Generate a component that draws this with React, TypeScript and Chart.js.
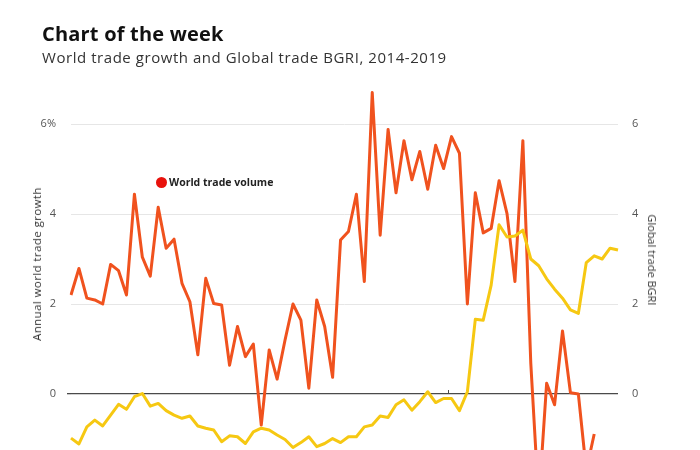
import React, { useEffect, useRef } from "react";
import { Chart, registerables } from "chart.js";

Chart.register(...registerables);

const years = [2014, 2015, 2016, 2017, 2018, 2019];
const months = ["Jan", "Feb", "Mar", "Apr", "May", "Jun", "Jul", "Aug", "Sep", "Oct", "Nov", "Dec"];
const monthCount = 70; // Jan 2014 .. Oct 2019

const labels: string[] = [];
years.forEach((y) => months.forEach((m) => labels.push(`${m} ${y}`)));
labels.length = monthCount;

// Annual world trade growth (%), left axis
const worldTradeVolume = [
  2.2, 2.79, 2.13, 2.09, 2.0, 2.88, 2.74, 2.2, 4.44, 3.04,
  2.62, 4.15, 3.24, 3.44, 2.46, 2.05, 0.87, 2.57, 2.01, 1.98,
  0.64, 1.5, 0.83, 1.11, -0.69, 0.98, 0.33, 1.2, 2.0, 1.64,
  0.13, 2.09, 1.5, 0.37, 3.42, 3.61, 4.44, 2.5, 6.7, 3.53,
  5.88, 4.47, 5.63, 4.76, 5.39, 4.55, 5.53, 5.01, 5.72, 5.35,
  2.0, 4.47, 3.58, 3.68, 4.74, 4.01, 2.5, 5.63, 0.68, -2.4,
  0.24, -0.24, 1.4, 0.03, 0.0, -1.7, -0.89,
];

// Global trade BGRI, right axis
const globalTradeBGRI = [
  -0.98, -1.11, -0.73, -0.58, -0.71, -0.47, -0.23, -0.34, -0.06, 0.01,
  -0.27, -0.21, -0.37, -0.47, -0.54, -0.49, -0.71, -0.76, -0.8, -1.06,
  -0.93, -0.95, -1.1, -0.84, -0.76, -0.8, -0.91, -1.01, -1.19, -1.08,
  -0.95, -1.17, -1.1, -0.99, -1.08, -0.95, -0.95, -0.73, -0.69, -0.49,
  -0.52, -0.24, -0.13, -0.36, -0.17, 0.05, -0.19, -0.1, -0.1, -0.37,
  0.05, 1.66, 1.64, 2.42, 3.76, 3.49, 3.51, 3.64, 3.0, 2.85,
  2.56, 2.33, 2.13, 1.87, 1.79, 2.92, 3.07, 3.0, 3.24, 3.2,
];

const leftTicks = [0, 2, 4, 6];
const rightTicks = [0, 2, 4, 6];
const yearMarkAfter = ["Dec 2017"];

const FONT = "'Open Sans', 'Noto Sans', sans-serif";
const ORANGE = "#F0521E";
const YELLOW = "#F6C812";

const yearMarkPlugin = {
  id: "yearMark",
  afterDatasetsDraw(chart: any) {
    const x = chart.scales.x;
    const y = chart.scales.y;
    const ctx = chart.ctx;
    ctx.save();
    ctx.strokeStyle = "#4a4a4a";
    ctx.lineWidth = 1;
    yearMarkAfter.forEach((lab) => {
      const i = labels.indexOf(lab);
      if (i < 0) return;
      const px = Math.round((x.getPixelForValue(i) + x.getPixelForValue(i + 1)) / 2) + 0.5;
      const py = y.getPixelForValue(0);
      ctx.beginPath();
      ctx.moveTo(px, py);
      ctx.lineTo(px, py - 4);
      ctx.stroke();
    });
    ctx.restore();
  },
};

export default function App() {
  const canvasRef = useRef<HTMLCanvasElement | null>(null);

  useEffect(() => {
    if (!canvasRef.current) return;
    const chart = new Chart(canvasRef.current, {
      type: "line",
      data: {
        labels,
        datasets: [
          {
            label: "Global trade BGRI",
            data: globalTradeBGRI,
            yAxisID: "y1",
            borderColor: YELLOW,
            borderWidth: 3,
            pointRadius: 0,
            tension: 0,
            borderJoinStyle: "round",
            fill: false,
          },
          {
            label: "World trade volume",
            data: worldTradeVolume,
            yAxisID: "y",
            borderColor: ORANGE,
            borderWidth: 3,
            pointRadius: 0,
            tension: 0,
            borderJoinStyle: "round",
            fill: false,
          },
        ],
      },
      plugins: [yearMarkPlugin],
      options: {
        responsive: false,
        animation: false,
        layout: { padding: { top: 79, bottom: 26, left: 0, right: 0 } },
        plugins: {
          legend: { display: false },
          tooltip: { enabled: false },
          title: { display: false },
        },
        scales: {
          x: { type: "category", display: false, offset: false },
          y: {
            position: "left",
            min: -4,
            max: 7,
            afterBuildTicks: (s: any) => {
              s.ticks = leftTicks.map((v) => ({ value: v }));
            },
            afterFit: (s: any) => {
              s.width = 71;
            },
            border: { display: false },
            grid: {
              color: (ctx: any) => (ctx.tick && ctx.tick.value === 0 ? "#4a4a4a" : "#e6e6e6"),
              lineWidth: (ctx: any) => (ctx.tick && ctx.tick.value === 0 ? 1.3 : 1),
              drawTicks: true,
              tickLength: 4,
              tickColor: (ctx: any) => (ctx.tick && ctx.tick.value === 0 ? "#4a4a4a" : "rgba(0,0,0,0)"),
            },
            ticks: {
              padding: 11,
              color: "#555",
              font: { family: FONT, size: 11 },
              callback: (v: any) => (v === 6 ? "6%" : String(v)),
            },
          },
          y1: {
            position: "right",
            min: -4,
            max: 7,
            afterBuildTicks: (s: any) => {
              s.ticks = rightTicks.map((v) => ({ value: v }));
            },
            afterFit: (s: any) => {
              s.width = 82;
            },
            border: { display: false },
            grid: { display: false, drawTicks: false },
            ticks: {
              padding: 14,
              color: "#555",
              font: { family: FONT, size: 11 },
              callback: (v: any) => String(v),
            },
          },
        },
      },
    });
    return () => chart.destroy();
  }, []);

  return (
    <div
      style={{
        position: "fixed",
        left: 0,
        top: 0,
        width: 700,
        height: 450,
        overflow: "hidden",
        background: "#fff",
        fontFamily: FONT,
        fontWeight: 400,
      }}
    >
      <canvas
        ref={canvasRef}
        width={700}
        height={600}
        style={{ position: "absolute", left: 0, top: 0, width: 700, height: 600 }}
      />
      <div
        style={{
          position: "absolute",
          left: 42,
          top: 22,
          fontSize: 20,
          fontWeight: 700,
          letterSpacing: 0.2,
          color: "#111",
          whiteSpace: "nowrap",
          lineHeight: "24px",
        }}
      >
        Chart of the week
      </div>
      <div
        style={{
          position: "absolute",
          left: 42,
          top: 47,
          fontSize: 15,
          letterSpacing: 0.55,
          color: "#333",
          whiteSpace: "nowrap",
          lineHeight: "20px",
        }}
      >
        World trade growth and Global trade BGRI, 2014-2019
      </div>
      <div
        style={{
          position: "absolute",
          left: 37,
          top: 264,
          transform: "translate(-50%, -50%) rotate(-90deg)",
          fontSize: 11.5,
          fontWeight: 400,
          letterSpacing: 0.4,
          color: "#333",
          whiteSpace: "nowrap",
          lineHeight: "14px",
        }}
      >
        Annual world trade growth
      </div>
      <div
        style={{
          position: "absolute",
          left: 652,
          top: 260,
          transform: "translate(-50%, -50%) rotate(90deg)",
          fontSize: 11,
          fontWeight: 400,
          letterSpacing: 0,
          color: "#333",
          whiteSpace: "nowrap",
          lineHeight: "14px",
        }}
      >
        Global trade BGRI
      </div>
      <div
        style={{
          position: "absolute",
          left: 156,
          top: 177,
          width: 11,
          height: 11,
          borderRadius: "50%",
          background: "#E8120C",
        }}
      />
      <div
        style={{
          position: "absolute",
          left: 169,
          top: 182,
          transform: "translateY(-50%)",
          fontSize: 10.5,
          fontWeight: 700,
          color: "#222",
          whiteSpace: "nowrap",
          lineHeight: "12px",
        }}
      >
        World trade volume
      </div>
    </div>
  );
}
